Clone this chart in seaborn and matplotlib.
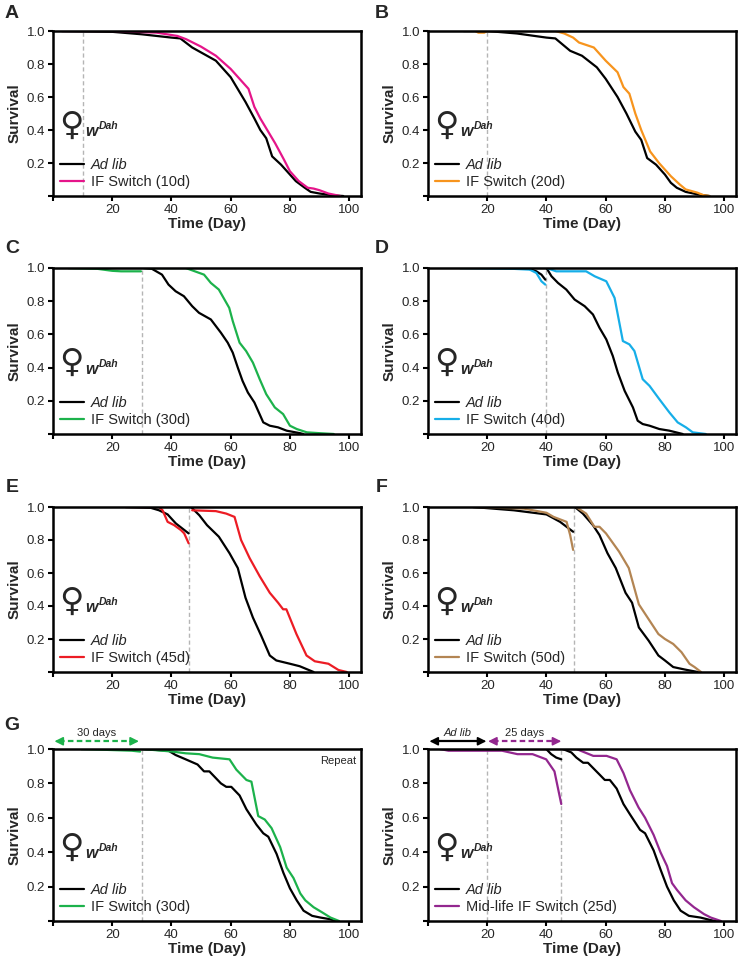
import numpy as np
import pandas as pd
import matplotlib
matplotlib.use("Agg")
import matplotlib.pyplot as plt
from matplotlib.lines import Line2D
import seaborn as sns

# Panel A: switch at day 10
a_switch = 10
a_adlib_day = [3, 20, 30, 40, 43, 47, 50, 55, 60, 63, 65, 68, 70, 72, 74, 77, 80, 82, 85, 87, 90, 95, 98]
a_adlib_surv = [1.0, 0.995, 0.98, 0.96, 0.955, 0.90, 0.87, 0.82, 0.72, 0.63, 0.57, 0.47, 0.40, 0.35, 0.24, 0.19, 0.13, 0.09, 0.05, 0.025, 0.015, 0.003, 0.0]
a_if_day = [3, 20, 35, 42, 45, 50, 55, 60, 63, 66, 68, 70, 72, 75, 78, 80, 83, 86, 88, 90, 93, 97]
a_if_surv = [1.0, 1.0, 0.99, 0.97, 0.95, 0.905, 0.85, 0.77, 0.71, 0.65, 0.54, 0.47, 0.41, 0.32, 0.22, 0.15, 0.09, 0.05, 0.045, 0.035, 0.015, 0.0]

# Panel B: switch at day 20
b_switch = 20
b_adlib_day = [12, 20, 30, 40, 43, 48, 52, 57, 60, 64, 67, 70, 72, 74, 77, 80, 82, 84, 87, 91, 95]
b_adlib_surv = [1.0, 1.0, 0.985, 0.96, 0.955, 0.88, 0.85, 0.78, 0.71, 0.60, 0.50, 0.39, 0.34, 0.23, 0.19, 0.13, 0.08, 0.05, 0.025, 0.01, 0.0]
b_if_day = [16, 17, 19, 20, 30, 43, 46, 49, 51, 56, 60, 64, 66, 68, 70, 72, 75, 78, 82, 85, 87, 91, 93, 95]
b_if_surv = [1.0, 0.99, 0.99, 1.0, 1.0, 1.0, 0.985, 0.96, 0.93, 0.90, 0.82, 0.75, 0.66, 0.62, 0.50, 0.40, 0.27, 0.20, 0.12, 0.07, 0.04, 0.02, 0.005, 0.0]

# Panel C: switch at day 30
c_switch = 30
c_adlib_pre_day = [5, 30]
c_adlib_pre_surv = [1.0, 1.0]
c_if_pre_day = [5.6, 15, 20, 23, 29.7]
c_if_pre_surv = [1.0, 0.995, 0.983, 0.98, 0.98]
c_adlib_post_day = [30.6, 33.4, 36.8, 39, 41.4, 44.2, 47, 49.3, 53.3, 56.7, 59, 60.7, 62.4, 64, 65.8, 68, 71, 73.2, 76, 78.9, 83.4, 84.5]
c_adlib_post_surv = [1.0, 0.995, 0.96, 0.90, 0.86, 0.83, 0.77, 0.73, 0.69, 0.61, 0.55, 0.49, 0.40, 0.32, 0.25, 0.19, 0.07, 0.05, 0.04, 0.02, 0.005, 0.0]
c_if_post_day = [30.6, 44.8, 51, 53.3, 56, 59.5, 60.7, 63, 65.2, 67.5, 69.8, 72, 74.9, 77.7, 80, 82.3, 85.7, 90, 94.8]
c_if_post_surv = [1.0, 1.0, 0.96, 0.91, 0.87, 0.76, 0.68, 0.55, 0.50, 0.43, 0.33, 0.24, 0.16, 0.12, 0.05, 0.03, 0.01, 0.005, 0.0]

# Panel D: switch at day 40
d_switch = 40
d_adlib_pre_day = [10.8, 33.2, 36.6, 38.3, 39.6]
d_adlib_pre_surv = [1.0, 1.0, 0.98, 0.96, 0.93]
d_if_pre_day = [10.8, 28.8, 34.4, 36.6, 38.3, 39.6]
d_if_pre_surv = [1.0, 0.995, 0.99, 0.97, 0.92, 0.90]
d_adlib_post_day = [40, 41.7, 43.9, 46.7, 49.5, 52.9, 55.7, 57.9, 60.2, 62.4, 64.1, 66.4, 69.2, 70.8, 72.5, 74.8, 78.1, 81.5, 86]
d_adlib_post_surv = [1.0, 0.95, 0.91, 0.87, 0.81, 0.77, 0.72, 0.64, 0.57, 0.47, 0.37, 0.26, 0.16, 0.08, 0.06, 0.05, 0.03, 0.02, 0.0]
d_if_post_day = [40, 43.3, 53.4, 56.3, 60.2, 63, 65.8, 68, 69.7, 72.5, 74.8, 78.1, 81.5, 84.3, 87.1, 89.4, 93.8]
d_if_post_surv = [1.0, 0.98, 0.98, 0.95, 0.92, 0.82, 0.56, 0.54, 0.50, 0.33, 0.29, 0.21, 0.13, 0.07, 0.04, 0.01, 0.0]

# Panel E: switch at day 46
e_switch = 45.8
e_adlib_pre_day = [24.5, 33, 35.8, 38.7, 41.5, 45.8]
e_adlib_pre_surv = [1.0, 0.995, 0.98, 0.955, 0.90, 0.84]
e_if_pre_day = [24.5, 35.8, 37, 38.7, 40.9, 43.2, 44.3, 45.8]
e_if_pre_surv = [1.0, 1.0, 0.98, 0.91, 0.89, 0.86, 0.84, 0.78]
e_adlib_post_day = [46.6, 49.4, 52, 56, 59.6, 62.4, 65, 67.5, 70.3, 73.2, 75.4, 80, 83.3, 88]
e_adlib_post_surv = [1.0, 0.95, 0.89, 0.82, 0.72, 0.63, 0.45, 0.33, 0.22, 0.10, 0.07, 0.05, 0.035, 0.0]
e_if_post_day = [47, 55, 58.5, 61.3, 63.5, 66.4, 69.8, 73.2, 76, 77.7, 78.8, 82.2, 85.6, 88.4, 93, 96.4, 99.2]
e_if_post_surv = [0.98, 0.975, 0.96, 0.94, 0.80, 0.69, 0.58, 0.48, 0.42, 0.38, 0.38, 0.23, 0.10, 0.065, 0.05, 0.012, 0.0]

# Panel F: switch at day 49
f_switch = 49.2
f_adlib_pre_day = [15.2, 29, 40, 44.6, 49]
f_adlib_pre_surv = [1.0, 0.98, 0.955, 0.91, 0.85]
f_if_pre_day = [15.2, 32.4, 40, 42.4, 46.8, 48, 49]
f_if_pre_surv = [1.0, 0.99, 0.965, 0.94, 0.91, 0.83, 0.74]
f_adlib_post_day = [49.6, 52.3, 55.7, 57.9, 60.6, 63.4, 66.7, 68.9, 71.2, 74.5, 77.8, 80, 82.8, 86.7, 91.1]
f_adlib_post_surv = [1.0, 0.96, 0.89, 0.83, 0.72, 0.63, 0.48, 0.42, 0.27, 0.19, 0.10, 0.07, 0.03, 0.015, 0.0]
f_if_post_day = [50, 53.4, 56.2, 57.9, 60.1, 64.5, 67.8, 71.2, 74.5, 77.8, 80, 82.8, 85.6, 88.3, 90, 92.2]
f_if_post_surv = [1.0, 0.96, 0.88, 0.88, 0.84, 0.73, 0.63, 0.41, 0.32, 0.23, 0.20, 0.17, 0.12, 0.05, 0.03, 0.0]

# Panel G: repeat, switch at day 30
g_switch = 30
g_adlib_pre_day = [9.5, 30]
g_adlib_pre_surv = [1.0, 1.0]
g_if_pre_day = [9.5, 26.6, 29.4]
g_if_pre_surv = [1.0, 0.99, 0.985]
g_adlib_post_day = [30, 39, 41.4, 44.8, 48.8, 51, 52.8, 56.7, 58.5, 60.2, 63, 65.3, 68.7, 71, 72.7, 75.5, 77.8, 80, 82.3, 84.6, 87.5, 90.3, 93.7, 95.4]
g_adlib_post_surv = [1.0, 0.99, 0.965, 0.94, 0.91, 0.87, 0.87, 0.80, 0.78, 0.78, 0.73, 0.65, 0.56, 0.51, 0.49, 0.39, 0.28, 0.19, 0.12, 0.06, 0.03, 0.02, 0.01, 0.0]
g_if_post_day = [30, 40.3, 44.8, 49.4, 53.9, 59.6, 61.9, 65.3, 67, 69.3, 71.5, 73.8, 76.7, 78.9, 81.2, 83.5, 85.2, 88, 90.9, 93.7, 96.6]
g_if_post_surv = [1.0, 0.985, 0.975, 0.97, 0.95, 0.94, 0.88, 0.82, 0.81, 0.61, 0.59, 0.54, 0.43, 0.31, 0.25, 0.16, 0.12, 0.08, 0.05, 0.02, 0.0]

# Panel H: mid-life switch, IF from day 20 to 45
h_start = 20
h_switch = 45
h_adlib_pre_day = [4, 39.9, 41.6, 43.3, 45]
h_adlib_pre_surv = [1.0, 1.0, 0.97, 0.95, 0.94]
h_if_pre_day = [4.1, 6.9, 25, 30.2, 35.3, 39.9, 42.7, 45]
h_if_pre_surv = [1.0, 0.99, 0.99, 0.97, 0.97, 0.94, 0.87, 0.68]
h_adlib_post_day = [45.5, 48.4, 50.1, 52.4, 54, 58, 59.7, 61.4, 63.7, 66, 68.2, 71.6, 73.3, 76.2, 78.5, 80.7, 83, 85.3, 88.1, 92, 95.5, 97.2]
h_adlib_post_surv = [1.0, 0.98, 0.95, 0.92, 0.92, 0.85, 0.82, 0.82, 0.77, 0.68, 0.62, 0.53, 0.51, 0.41, 0.30, 0.20, 0.12, 0.06, 0.03, 0.02, 0.005, 0.0]
h_if_post_day = [45.5, 50.1, 55.8, 60.3, 63.7, 66, 68.2, 71.1, 73.3, 76.2, 78.5, 80.7, 82.4, 84.1, 87, 89.8, 93.2, 95.5, 98.9]
h_if_post_surv = [1.0, 1.0, 0.96, 0.96, 0.94, 0.86, 0.76, 0.66, 0.60, 0.50, 0.40, 0.32, 0.22, 0.18, 0.12, 0.08, 0.04, 0.02, 0.0]

panel_letters = ["A", "B", "C", "D", "E", "F", "G"]
letter_px = [(12, 14), (382, 14), (12, 249), (382, 249), (12, 488), (382, 488), (12, 725)]
if_labels = ["IF Switch (10d)", "IF Switch (20d)", "IF Switch (30d)", "IF Switch (40d)",
             "IF Switch (45d)", "IF Switch (50d)", "IF Switch (30d)", "Mid-life IF Switch (25d)"]
if_colors = ["#e5158a", "#f7941d", "#1cb24b", "#16aee8", "#ec1c24", "#b38553", "#1cb24b", "#93278f"]

sns.set_style("ticks")
plt.rcParams["font.family"] = ["Liberation Sans", "DejaVu Sans"]

fig = plt.figure(figsize=(7.39, 9.61), dpi=100)
W, H = 739, 961
lefts = [53, 428]
rows = [(31, 196), (268, 434), (507, 672), (749, 921)]
axes = []
for r, (top, bot) in enumerate(rows):
    for c in range(2):
        ax = fig.add_axes([lefts[c] / W, 1 - bot / H, 308 / W, (bot - top) / H])
        axes.append(ax)


def line(ax, day, surv, color):
    df = pd.DataFrame({"day": day, "surv": surv})
    sns.lineplot(data=df, x="day", y="surv", ax=ax, color=color, lw=1.6,
                 estimator=None, sort=False, zorder=3)


def vline(ax, x):
    ax.axvline(x, color="#b5b5b5", lw=1, ls=(0, (3, 2)), zorder=1)


def style(ax, label, color):
    ax.set_xlim(0, 104)
    ax.set_ylim(0, 1.0)
    ax.set_xticks([0, 20, 40, 60, 80, 100])
    ax.set_xticklabels(["", "20", "40", "60", "80", "100"])
    ax.set_yticks([0, 0.2, 0.4, 0.6, 0.8, 1.0])
    ax.set_yticklabels(["", "0.2", "0.4", "0.6", "0.8", "1.0"])
    ax.tick_params(width=1.5, length=3.5, labelsize=9.5, pad=2, color="black")
    for s in ax.spines.values():
        s.set_linewidth(1.8)
        s.set_color("black")
        s.set_zorder(5)
    ax.set_xlabel("Time (Day)", fontsize=11, fontweight="bold", labelpad=1)
    ax.set_ylabel("Survival", fontsize=11, fontweight="bold", labelpad=4)
    handles = [Line2D([], [], color="black", lw=1.6), Line2D([], [], color=color, lw=1.6)]
    leg = ax.legend(handles, ["Ad lib", label], loc="lower left", frameon=False,
                    fontsize=10.5, handlelength=1.6, handletextpad=0.5,
                    labelspacing=0.2, borderaxespad=0.3, borderpad=0.2)
    leg.get_texts()[0].set_style("italic")
    # female symbol with genotype label
    ax.text(0.06, 0.43, "\u2640", transform=ax.transAxes, fontsize=24,
            ha="center", va="center", family="DejaVu Sans")
    wt = ax.text(0.106, 0.364, "w", transform=ax.transAxes, fontsize=11.5,
                 fontweight="bold", style="italic", ha="left", va="baseline")
    ax.annotate("Dah", xy=(1.0, 0.0), xycoords=wt, xytext=(0.5, 10),
                textcoords="offset pixels", fontsize=7.5,
                fontweight="bold", style="italic", ha="left", va="baseline")


# A and B: continuous curves
for ax, sw, ad, asv, fd, fsv, col in [
        (axes[0], a_switch, a_adlib_day, a_adlib_surv, a_if_day, a_if_surv, if_colors[0]),
        (axes[1], b_switch, b_adlib_day, b_adlib_surv, b_if_day, b_if_surv, if_colors[1])]:
    vline(ax, sw)
    line(ax, ad, asv, "black")
    line(ax, fd, fsv, col)

# C-H: curves re-normalised at the switch day
split = [
    (axes[2], c_switch, c_adlib_pre_day, c_adlib_pre_surv, c_if_pre_day, c_if_pre_surv,
     c_adlib_post_day, c_adlib_post_surv, c_if_post_day, c_if_post_surv, if_colors[2]),
    (axes[3], d_switch, d_adlib_pre_day, d_adlib_pre_surv, d_if_pre_day, d_if_pre_surv,
     d_adlib_post_day, d_adlib_post_surv, d_if_post_day, d_if_post_surv, if_colors[3]),
    (axes[4], e_switch, e_adlib_pre_day, e_adlib_pre_surv, e_if_pre_day, e_if_pre_surv,
     e_adlib_post_day, e_adlib_post_surv, e_if_post_day, e_if_post_surv, if_colors[4]),
    (axes[5], f_switch, f_adlib_pre_day, f_adlib_pre_surv, f_if_pre_day, f_if_pre_surv,
     f_adlib_post_day, f_adlib_post_surv, f_if_post_day, f_if_post_surv, if_colors[5]),
    (axes[6], g_switch, g_adlib_pre_day, g_adlib_pre_surv, g_if_pre_day, g_if_pre_surv,
     g_adlib_post_day, g_adlib_post_surv, g_if_post_day, g_if_post_surv, if_colors[6]),
    (axes[7], h_switch, h_adlib_pre_day, h_adlib_pre_surv, h_if_pre_day, h_if_pre_surv,
     h_adlib_post_day, h_adlib_post_surv, h_if_post_day, h_if_post_surv, if_colors[7]),
]
for ax, sw, apd, aps, ipd, ips, aqd, aqs, iqd, iqs, col in split:
    vline(ax, sw)
    line(ax, apd, aps, "black")
    line(ax, ipd, ips, col)
    line(ax, aqd, aqs, "black")
    line(ax, iqd, iqs, col)
vline(axes[7], h_start)

for i, ax in enumerate(axes):
    style(ax, if_labels[i], if_colors[i])

for letter, (px, py) in zip(panel_letters, letter_px):
    fig.text(px / W, 1 - py / H, letter, fontsize=14, fontweight="bold",
             ha="center", va="center")


def span_arrow(ax, x0, x1, color, dashed, text, italic=False):
    y = 1.045
    trans = ax.get_xaxis_transform()
    ax.plot([x0 + 1.5, x1 - 1.5], [y, y], color=color, lw=1.6,
            ls=(0, (2.5, 1.5)) if dashed else "-", transform=trans, clip_on=False)
    for a, b in [(x0, x0 + 3), (x1, x1 - 3)]:
        ax.annotate("", xy=(a, y), xycoords=trans, xytext=(b, y), textcoords=trans,
                    arrowprops=dict(arrowstyle="-|>,head_length=0.5,head_width=0.25",
                                    color=color, lw=1.2, shrinkA=0, shrinkB=0))
    ax.text((x0 + x1) / 2, y + 0.05, text, transform=trans, fontsize=8,
            ha="center", va="center", style="italic" if italic else "normal")


span_arrow(axes[6], 0.5, 29, if_colors[6], True, "30 days")
axes[6].text(0.985, 0.96, "Repeat", transform=axes[6].transAxes, fontsize=8,
             ha="right", va="top")
span_arrow(axes[7], 0.5, 19.7, "black", False, "Ad lib", italic=True)
span_arrow(axes[7], 20.3, 45, if_colors[7], True, "25 days")

fig.savefig("out.png", dpi=100)
